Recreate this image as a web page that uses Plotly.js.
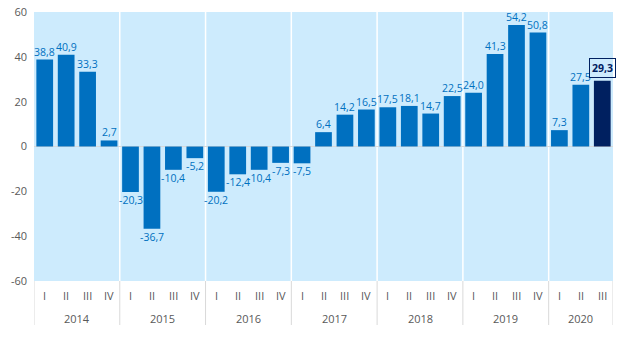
<!DOCTYPE html>
<html><head><meta charset="utf-8">
<script src="https://cdn.plot.ly/plotly-3.0.1.min.js"></script>
<style>html,body{margin:0;padding:0;background:#fff;}#chart{width:618px;height:362px;}</style>
</head><body><div id="chart"></div>
<script>
const years = ["2014","2014","2014","2014","2015","2015","2015","2015","2016","2016","2016","2016","2017","2017","2017","2017","2018","2018","2018","2018","2019","2019","2019","2019","2020","2020","2020"];
const quarters = ["I","II","III","IV","I","II","III","IV","I","II","III","IV","I","II","III","IV","I","II","III","IV","I","II","III","IV","I","II","III"];
const values = [38.8,40.9,33.3,2.7,-20.3,-36.7,-10.4,-5.2,-20.2,-12.4,-10.4,-7.3,-7.5,6.4,14.2,16.5,17.5,18.1,14.7,22.5,24.0,41.3,54.2,50.8,7.3,27.5,29.3];
const yTicks = [-60,-40,-20,0,20,40,60];

const n = values.length;
const idx = values.map((v,i) => i);
const fmt = v => v.toFixed(1).replace('.', ',');
const colors = values.map((v,i) => i === n-1 ? '#002060' : '#0070C0');
const FONT = 'Open Sans, sans-serif';

const annotations = values.map((v,i) => {
  const last = i === n-1;
  return {
    x: i, y: v, xref: 'x', yref: 'y',
    text: last ? '<b>' + fmt(v) + '</b>' : fmt(v),
    showarrow: false,
    yanchor: v >= 0 ? 'bottom' : 'top',
    yshift: v >= 0 ? (last ? 3 : 1) : -1,
    font: {family: FONT, size: 10.5, color: last ? '#002060' : '#0070C0'},
    bordercolor: last ? '#002060' : 'rgba(0,0,0,0)',
    borderwidth: last ? 1 : 0,
    borderpad: last ? 2 : 0
  };
});

// quarter labels
quarters.forEach((q,i) => {
  annotations.push({x: i, y: 0, xref: 'x', yref: 'paper', text: q, showarrow: false,
    yanchor: 'middle', yshift: -14, font: {family: FONT, size: 11, color: '#595959'}});
});

// year labels and dividers
const shapes = [];
const plotH = 362 - 12 - 81;
let start = 0;
for (let i = 1; i <= n; i++) {
  if (i === n || years[i] !== years[start]) {
    annotations.push({x: (start + i - 1) / 2, y: 0, xref: 'x', yref: 'paper', text: years[start],
      showarrow: false, yanchor: 'middle', yshift: -37, font: {family: FONT, size: 11, color: '#595959'}});
    if (i < n) {
      shapes.push({type:'line', xref:'x', yref:'paper', x0:i-0.5, x1:i-0.5, y0:0, y1:1,
        line:{color:'#ffffff', width:1.5}, layer:'below'});
    }
    shapes.push({type:'line', xref:'x', yref:'paper', x0:i-0.5, x1:i-0.5, y0:-44/plotH, y1:0,
      line:{color:'#d9d9d9', width:1}});
    start = i;
  }
}
shapes.push({type:'line', xref:'x', yref:'paper', x0:-0.5, x1:-0.5, y0:-44/plotH, y1:0,
  line:{color:'#d9d9d9', width:1}});

const trace = {
  type: 'bar',
  x: idx,
  y: values,
  marker: {color: colors},
  hoverinfo: 'none'
};

const layout = {
  width: 618, height: 362,
  margin: {l: 34, r: 5, t: 12, b: 81},
  paper_bgcolor: '#ffffff',
  plot_bgcolor: '#CDEBFD',
  bargap: 0.22,
  showlegend: false,
  font: {family: FONT, color: '#595959', size: 10},
  xaxis: {
    range: [-0.5, n - 0.5],
    showgrid: false,
    showticklabels: false,
    ticks: '',
    showline: false,
    zeroline: false,
    fixedrange: true
  },
  yaxis: {
    range: [-60, 60],
    tickvals: yTicks,
    ticktext: yTicks.map(String),
    showgrid: false,
    zeroline: true,
    zerolinecolor: '#d9d9d9',
    zerolinewidth: 1,
    tickfont: {size: 11, color: '#595959'},
    ticks: '',
    ticklabelstandoff: 6
  },
  annotations: annotations,
  shapes: shapes
};

Plotly.newPlot('chart', [trace], layout, {displayModeBar: false, staticPlot: true});
</script></body></html>
